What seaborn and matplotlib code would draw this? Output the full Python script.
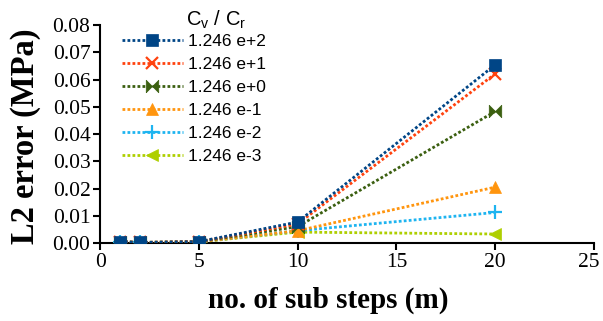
import matplotlib
matplotlib.use("Agg")
import matplotlib.pyplot as plt
import matplotlib.transforms as mtransforms
import seaborn as sns
import pandas as pd

# Sub-step counts and L2 error (MPa) for each Cv / Cr ratio
sub_steps = [1, 2, 5, 10, 20]
labels = ["1.246 e+2", "1.246 e+1", "1.246 e+0", "1.246 e-1", "1.246 e-2", "1.246 e-3"]
err_e_p2 = [0.0005, 0.0002, 0.0005, 0.0077, 0.0654]
err_e_p1 = [0.0005, 0.0002, 0.0005, 0.0070, 0.0621]
err_e_p0 = [0.0005, 0.0002, 0.0005, 0.0060, 0.0483]
err_e_m1 = [0.0004, 0.0002, 0.0004, 0.0045, 0.0205]
err_e_m2 = [0.0004, 0.0002, 0.0004, 0.0045, 0.0112]
err_e_m3 = [0.0004, 0.0002, 0.0004, 0.0040, 0.0033]
series = [err_e_p2, err_e_p1, err_e_p0, err_e_m1, err_e_m2, err_e_m3]

colors = ["#004586", "#ff420e", "#3b5f10", "#ff950e", "#1eb4f0", "#aecf00"]
bowtie = [(-1, -1), (-1, 1), (0, 0), (1, 1), (1, -1), (0, 0), (-1, -1)]
markers = ["s", "x", bowtie, "^", "+", "<"]
msizes = [8.5, 9, 9, 9, 10, 9]

df = pd.concat(
    [pd.DataFrame({"m": sub_steps, "err": vals, "ratio": lab})
     for lab, vals in zip(labels, series)],
    ignore_index=True,
)

sns.set_theme(style="white")
plt.rcParams["font.family"] = ["Liberation Serif", "DejaVu Serif"]
plt.rcParams["text.color"] = "black"
plt.rcParams["axes.labelcolor"] = "black"

fig = plt.figure(figsize=(6.03, 3.21), dpi=100)
ax = fig.add_axes([0.166, 0.243, 0.819, 0.679])

n = len(labels)
for i, (lab, col, mk, ms) in enumerate(zip(labels, colors, markers, msizes)):
    sub = df[df["ratio"] == lab]
    sns.lineplot(
        data=sub, x="m", y="err", ax=ax, color=col, label=lab,
        marker=mk, markersize=ms, markeredgecolor=col, markerfacecolor=col,
        markeredgewidth=1.6 if mk in ("x", "+") else 0.5,
        linestyle=(0, (1, 0.8)), linewidth=2.0, estimator=None, sort=False,
        zorder=3 + n - i,
    )

ax.set_xlim(0, 25)
ax.set_ylim(0, 0.08)
ax.set_xticks([0, 5, 10, 15, 20, 25])
ax.set_yticks([0.0, 0.01, 0.02, 0.03, 0.04, 0.05, 0.06, 0.07, 0.08])
ax.set_yticklabels([f"{v:.2f}" for v in ax.get_yticks()])

for side in ("top", "right"):
    ax.spines[side].set_visible(False)
for side in ("left", "bottom"):
    ax.spines[side].set_color("black")
    ax.spines[side].set_linewidth(1.5)

ax.tick_params(axis="both", which="major", direction="out", length=5, width=1.5,
               colors="black", labelcolor="black", labelsize=15.5, pad=2,
               left=True, bottom=True)

# keep the last x tick label inside the figure edge
last = ax.get_xticklabels()[-1]
last.set_transform(last.get_transform()
                   + mtransforms.ScaledTranslation(-5 / 100, 0, fig.dpi_scale_trans))

ax.set_xlabel("no. of sub steps (m)", fontsize=21, fontweight="bold")
ax.set_ylabel("L2 error (MPa)", fontsize=23.5, fontweight="bold")
ax.xaxis.set_label_coords((328 - 100) / 494, -(287 - 243) / 218)
ax.yaxis.set_label_coords((41 - 100) / 494, (243 - 136.5) / 218)

leg = ax.legend(
    loc="upper left", bbox_to_anchor=(0.191, 0.916), bbox_transform=fig.transFigure,
    frameon=False, handlelength=3.5, handletextpad=0.3, labelspacing=0.45,
    borderaxespad=0, prop={"family": "Liberation Sans", "size": 12.5},
)
fig.text(216 / 603, 1 - 20 / 321, r"C$_\mathregular{v}$ / C$_\mathregular{r}$",
         family="Liberation Sans", fontsize=14.5, ha="center", va="center")

fig.savefig("out.png", dpi=100)
